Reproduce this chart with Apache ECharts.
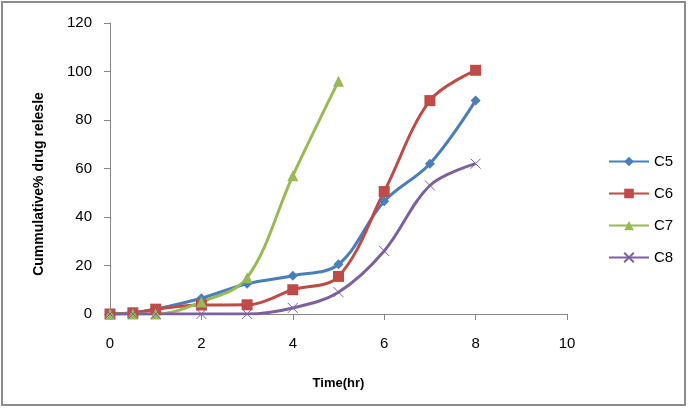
<!DOCTYPE html>
<html><head><meta charset="utf-8">
<script src="https://cdn.jsdelivr.net/npm/echarts@6/dist/echarts.min.js"></script>
<style>html,body{margin:0;padding:0;background:#fff}#c{width:689px;height:408px}</style>
</head><body><div id="c"></div>
<script>
const timesAll = [0, 0.5, 1, 2, 3, 4, 5, 6, 7, 8];
const timesC7 = [0, 0.5, 1, 2, 3, 4, 5];
const c5 = [0, 0.5, 2, 6.5, 12.5, 15.8, 20.5, 46.5, 62, 88];
const c6 = [0, 0.5, 2, 3.7, 3.8, 10, 15.5, 50.5, 88, 100.5];
const c7 = [0, 0, 0, 5, 15, 57, 96];
const c8 = [0, 0, 0, 0, 0, 2.5, 9, 26, 53, 62];
const seriesNames = ['C5', 'C6', 'C7', 'C8'];
const xTicks = [0, 2, 4, 6, 8, 10];
const yTicks = [0, 20, 40, 60, 80, 100, 120];

const pair = (xs, ys) => xs.map((x, i) => [x, ys[i]]);
const font = 'Liberation Sans, Arial, sans-serif';
const colors = ['#4a7ebb', '#be4b48', '#98b954', '#7d60a0'];
const cross = 'path://M0,0L10,10M10,0L0,10';

const chart = echarts.init(document.getElementById('c'));
function mk(name, data, color, symbol, size, extra) {
  return Object.assign({
    name, type: 'line', data, smooth: 0.35, symbol, symbolSize: size,
    lineStyle: { color, width: 3 },
    itemStyle: { color },
    emphasis: { disabled: true },
    z: 3
  }, extra || {});
}
chart.setOption({
  animation: false,
  graphic: [{ type: 'rect', shape: { x: 2, y: 2, width: 683, height: 403 }, style: { fill: 'none', stroke: '#8c8c8c', lineWidth: 2 }, z: -1 }],
  grid: { left: 110, right: 122, top: 23, bottom: 94 },
  legend: {
    orient: 'vertical', left: 603, top: 149, itemGap: 17, itemWidth: 40, itemHeight: 12,
    textStyle: { fontFamily: font, fontSize: 15, color: '#000' },
    data: seriesNames
  },
  xAxis: {
    type: 'value', min: 0, max: 10, interval: 2,
    name: 'Time(hr)', nameLocation: 'middle', nameGap: 63,
    nameTextStyle: { fontFamily: font, fontSize: 13, fontWeight: 'bold', color: '#000' },
    axisLine: { lineStyle: { color: '#868686', width: 1 } },
    axisTick: { show: true, length: 6, lineStyle: { color: '#868686' } },
    axisLabel: { fontFamily: font, fontSize: 15, color: '#000', margin: 22, formatter: v => xTicks.includes(v) ? String(v) : '' },
    splitLine: { show: false }
  },
  yAxis: {
    type: 'value', min: 0, max: 120, interval: 20,
    name: 'Cummulative% drug relesle', nameLocation: 'middle', nameGap: 64, nameRotate: 90,
    nameTextStyle: { fontFamily: font, fontSize: 14, fontWeight: 'bold', color: '#000', padding: [0, 31, 0, 0] },
    axisLine: { show: true, lineStyle: { color: '#868686', width: 1 } },
    axisTick: { show: true, inside: false, length: 6, lineStyle: { color: '#868686' } },
    axisLabel: { fontFamily: font, fontSize: 15, color: '#000', margin: 18, formatter: v => yTicks.includes(v) ? String(v) : '' },
    splitLine: { show: false }
  },
  series: [
    mk('C5', pair(timesAll, c5), colors[0], 'diamond', 10),
    mk('C6', pair(timesAll, c6), colors[1], 'rect', 11),
    mk('C7', pair(timesC7, c7), colors[2], 'triangle', 11),
    mk('C8', pair(timesAll, c8), colors[3], cross, 10, { itemStyle: { color: 'none', borderColor: colors[3], borderWidth: 1 } })
  ]
});
</script></body></html>
